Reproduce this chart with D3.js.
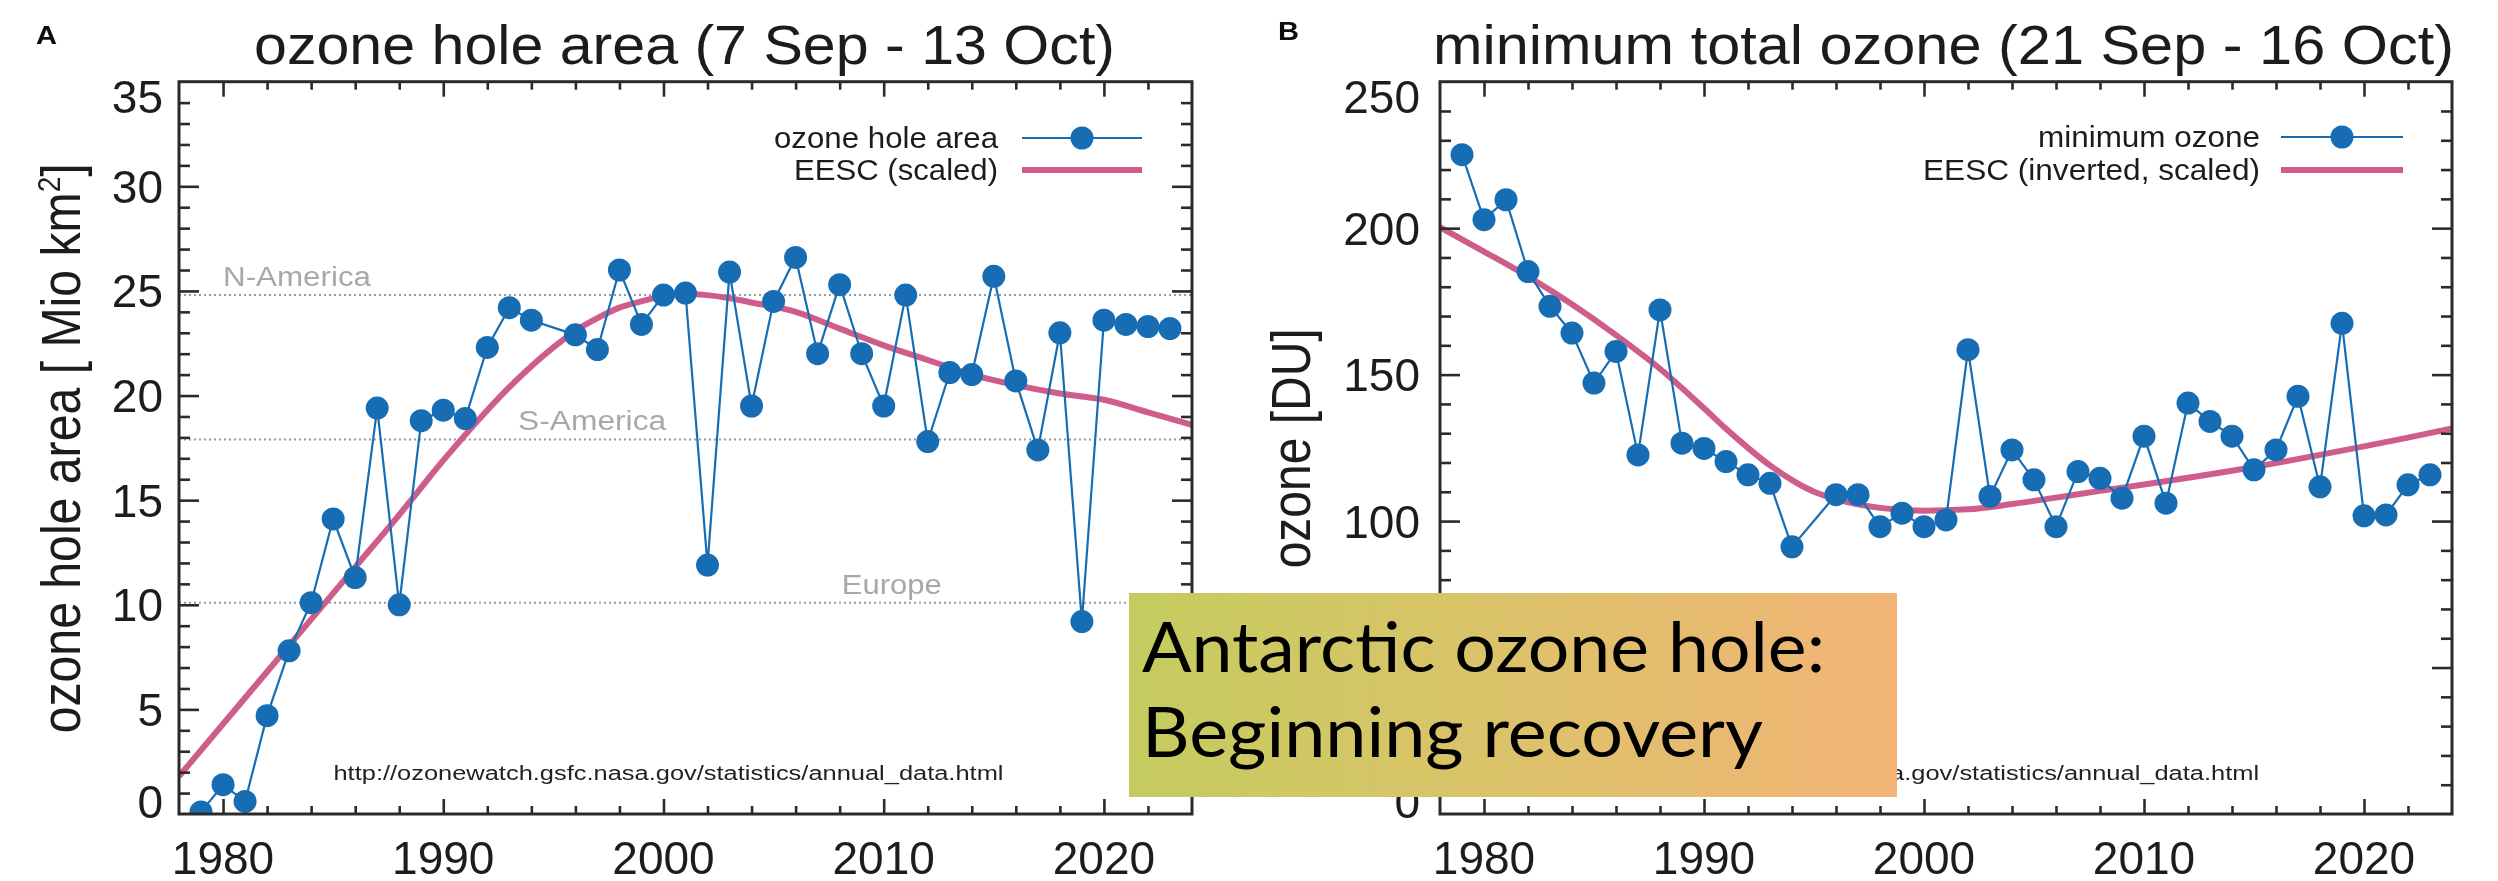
<!DOCTYPE html>
<html>
<head>
<meta charset="utf-8">
<script src="https://cdn.jsdelivr.net/npm/d3@7"></script>
<style>
  html, body { margin: 0; padding: 0; background: #fff; }
  svg { display: block; }
</style>
</head>
<body>
<svg id="chart" width="2498" height="881"></svg>
<script>
// ---- Panel A: Antarctic ozone hole area, million km², 7 Sep - 13 Oct mean (no 1995 data)
const areaYears = [1979,1980,1981,1982,1983,1984,1985,1986,1987,1988,1989,1990,1991,1992,1993,1994,
  1996,1997,1998,1999,2000,2001,2002,2003,2004,2005,2006,2007,2008,2009,2010,2011,2012,2013,2014,
  2015,2016,2017,2018,2019,2020,2021,2022,2023];
const areaValues = [0.1,1.4,0.6,4.7,7.8,10.1,14.1,11.3,19.4,10.0,18.8,19.3,18.9,22.3,24.2,23.6,
  22.9,22.2,26.0,23.4,24.8,24.9,11.9,25.9,19.5,24.5,26.6,22.0,25.3,22.0,19.5,24.8,17.8,21.1,21.0,
  25.7,20.7,17.4,23.0,9.2,23.6,23.4,23.3,23.2];

// EESC, scaled to hole area
const eescYears  = [1978,1980,1982,1984,1986,1988,1990,1992,1993,1994,1995,1996,1997,1998,1999,2000,
  2001,2002,2003,2004,2006,2008,2010,2012,2014,2016,2018,2020,2022,2024];
const eescValues = [1.8,4.3,6.8,9.3,11.8,14.3,16.9,19.3,20.4,21.4,22.3,23.1,23.7,24.2,24.5,24.75,
  24.85,24.8,24.65,24.45,24.0,23.2,22.4,21.7,21.0,20.5,20.1,19.8,19.2,18.6];

// Reference areas (dotted lines)
const regionNames  = ["N-America","S-America","Europe"];
const regionAreas  = [24.8,17.9,10.1];
const regionLabelX = [1980,1993.4,2008.1];

// ---- Panel B: minimum total ozone, DU, 21 Sep - 16 Oct
const minYears = areaYears;
const minValues = [225.1,202.9,209.7,185.2,173.3,164.2,147.1,157.9,122.6,172.1,126.6,124.8,120.3,115.8,112.9,91.2,
  109.0,109.0,98.1,102.7,98.1,100.4,158.5,108.4,124.3,114.1,98.1,116.9,114.6,107.8,129.0,106.1,140.3,134.0,129.0,
  117.5,124.3,142.6,111.7,167.5,101.8,102.1,112.4,115.8];

// EESC, inverted and scaled to ozone
const eescInvYears  = [1978,1980,1982,1984,1986,1988,1990,1991,1992,1993,1994,1995,1996,1998,2000,2002,
  2004,2006,2008,2010,2012,2014,2016,2018,2020,2022,2024];
const eescInvValues = [200.3,192.0,183.5,174.0,163.5,152.0,138.5,131.5,125.0,119.0,114.0,110.0,107.5,104.5,103.5,104.0,
  105.8,108.0,110.3,112.5,114.8,117.2,119.8,122.6,125.5,128.5,131.6];

const xTickYears = [1980,1990,2000,2010,2020];
const areaTicks  = [0,5,10,15,20,25,30,35];
const ozoneTicks = [0,50,100,150,200,250];

const urlText = "http://ozonewatch.gsfc.nasa.gov/statistics/annual_data.html";

// ---- layout
const TOP = 81.7, BOT = 814;
const BLUE = "#176db3", PINK = "#cf5d8b", FRAME = "#2b2b2b", INK = "#1c1c1c";
const FONT = "'Liberation Sans', Arial, Helvetica, sans-serif";

const svg = d3.select("#chart");
const defs = svg.append("defs");
defs.append("filter").attr("id", "soft")
  .attr("x", "-5%").attr("y", "-5%").attr("width", "110%").attr("height", "110%")
  .append("feGaussianBlur").attr("stdDeviation", 0.65);

const grad = defs.append("linearGradient").attr("id", "boxGrad")
  .attr("x1", "0%").attr("x2", "100%").attr("y1", "0%").attr("y2", "0%");
grad.append("stop").attr("offset", "0%").attr("stop-color", "#c5cc5f");
grad.append("stop").attr("offset", "50%").attr("stop-color", "#dcc26a");
grad.append("stop").attr("offset", "100%").attr("stop-color", "#f2b476");

const chart = svg.append("g").attr("filter", "url(#soft)");

function drawPanel(cfg) {
  const g = chart.append("g");
  const x = d3.scaleLinear().domain([1978, 2024]).range([cfg.x0, cfg.x1]);
  const y = d3.scaleLinear().domain(cfg.yDomain).range([BOT, TOP]);

  const clipId = "clip-" + cfg.id;
  defs.append("clipPath").attr("id", clipId)
    .append("rect").attr("x", cfg.x0).attr("y", TOP).attr("width", cfg.x1 - cfg.x0).attr("height", BOT - TOP);

  // reference dotted lines + labels
  (cfg.refs || []).forEach(r => {
    g.append("line")
      .attr("x1", cfg.x0).attr("x2", cfg.x1).attr("y1", y(r.v)).attr("y2", y(r.v))
      .attr("stroke", "#9a9a9a").attr("stroke-width", 2).attr("stroke-dasharray", "2,3");
    g.append("text")
      .attr("x", x(r.lx)).attr("y", y(r.v) - 9)
      .attr("font-family", FONT).attr("font-size", 27).attr("fill", "#a8a8a8")
      .attr("textLength", r.w).attr("lengthAdjust", "spacingAndGlyphs")
      .text(r.name);
  });

  // source url
  g.append("text")
    .attr("x", x(cfg.urlEndYear)).attr("y", 780).attr("text-anchor", "end")
    .attr("font-family", FONT).attr("font-size", 20).attr("fill", "#222")
    .attr("textLength", 670).attr("lengthAdjust", "spacingAndGlyphs")
    .text(urlText);

  const plot = g.append("g").attr("clip-path", `url(#${clipId})`);

  // EESC curve
  const eesc = cfg.eescX.map((d, i) => [d, cfg.eescY[i]]);
  plot.append("path")
    .datum(eesc)
    .attr("fill", "none").attr("stroke", PINK).attr("stroke-width", 6)
    .attr("stroke-linejoin", "round")
    .attr("d", d3.line().x(d => x(d[0])).y(d => y(d[1])).curve(d3.curveMonotoneX));

  // observations
  const obs = cfg.dataX.map((d, i) => [d, cfg.dataY[i]]);
  plot.append("path")
    .datum(obs)
    .attr("fill", "none").attr("stroke", BLUE).attr("stroke-width", 2.2)
    .attr("d", d3.line().x(d => x(d[0])).y(d => y(d[1])));
  plot.selectAll("circle.obs").data(obs).join("circle")
    .attr("class", "obs")
    .attr("cx", d => x(d[0])).attr("cy", d => y(d[1])).attr("r", 11.5)
    .attr("fill", BLUE);

  // ticks (inward on all four sides)
  const minorX = d3.range(1978, 2025, 2).filter(v => v % 10 !== 0 && v > 1978 && v < 2024);
  const minorY = d3.range(cfg.yDomain[0], cfg.yDomain[1] + 1e-9, cfg.minor)
    .filter(v => Math.abs(v % cfg.major) > 1e-9 && v > cfg.yDomain[0] && v < cfg.yDomain[1]);
  const majorY = cfg.yTicks.filter(v => v > cfg.yDomain[0] && v < cfg.yDomain[1]);

  const styleAxis = sel => {
    sel.select(".domain").remove();
    sel.selectAll(".tick line").attr("stroke", FRAME).attr("stroke-width", 2.6);
    sel.selectAll(".tick text").remove();
  };
  const ax = [
    [d3.axisBottom(x).tickValues(xTickYears).tickSize(-15), `translate(0,${BOT})`],
    [d3.axisBottom(x).tickValues(minorX).tickSize(-8), `translate(0,${BOT})`],
    [d3.axisTop(x).tickValues(xTickYears).tickSize(-15), `translate(0,${TOP})`],
    [d3.axisTop(x).tickValues(minorX).tickSize(-8), `translate(0,${TOP})`],
    [d3.axisLeft(y).tickValues(majorY).tickSize(-20), `translate(${cfg.x0},0)`],
    [d3.axisLeft(y).tickValues(minorY).tickSize(-11), `translate(${cfg.x0},0)`],
    [d3.axisRight(y).tickValues(majorY).tickSize(-20), `translate(${cfg.x1},0)`],
    [d3.axisRight(y).tickValues(minorY).tickSize(-11), `translate(${cfg.x1},0)`]
  ];
  ax.forEach(([a, t]) => g.append("g").attr("transform", t).call(a).call(styleAxis));

  // frame
  g.append("rect")
    .attr("x", cfg.x0).attr("y", TOP).attr("width", cfg.x1 - cfg.x0).attr("height", BOT - TOP)
    .attr("fill", "none").attr("stroke", FRAME).attr("stroke-width", 3);

  // tick labels
  g.selectAll("text.xl").data(xTickYears).join("text")
    .attr("class", "xl")
    .attr("x", d => x(d)).attr("y", 874).attr("text-anchor", "middle")
    .attr("font-family", FONT).attr("font-size", 46).attr("fill", INK)
    .text(d => d);
  g.selectAll("text.yl").data(cfg.yTicks).join("text")
    .attr("class", "yl")
    .attr("x", cfg.x0 - (cfg.id === "a" ? 16 : 20))
    .attr("y", d => {
      let yy = y(d);
      if (d === cfg.yDomain[1]) yy += 15;      // end labels kept inside the axis span
      if (d === cfg.yDomain[0]) yy -= 13;
      return yy;
    })
    .attr("dy", "0.36em").attr("text-anchor", "end")
    .attr("font-family", FONT).attr("font-size", 46).attr("fill", INK)
    .text(d => d);

  // axis title (rotated)
  g.append("text")
    .attr("transform", `translate(${cfg.yTitleX},${(TOP + BOT) / 2 + 0.5}) rotate(-90)`)
    .attr("text-anchor", "middle")
    .attr("font-family", FONT).attr("font-size", 55).attr("fill", INK)
    .attr("textLength", cfg.yTitleLen).attr("lengthAdjust", "spacingAndGlyphs")
    .call(t => cfg.yTitle(t));

  // title
  g.append("text")
    .attr("x", cfg.titleX).attr("y", 64)
    .attr("font-family", FONT).attr("font-size", 56).attr("fill", INK)
    .attr("textLength", cfg.titleLen).attr("lengthAdjust", "spacingAndGlyphs")
    .text(cfg.title);

  // panel letter
  g.append("text")
    .attr("x", cfg.letterX).attr("y", cfg.letterY)
    .attr("font-family", FONT).attr("font-size", 25).attr("font-weight", "bold").attr("fill", "#111")
    .attr("textLength", 21).attr("lengthAdjust", "spacingAndGlyphs")
    .text(cfg.letter);

  // legend
  const L = cfg.legend;
  [[L.label1, L.y1, L.w1], [L.label2, L.y2, L.w2]].forEach(([lab, ly, lw]) => {
    g.append("text")
      .attr("x", L.textRight).attr("y", ly + 10).attr("text-anchor", "end")
      .attr("font-family", FONT).attr("font-size", 29).attr("fill", INK)
      .attr("textLength", lw).attr("lengthAdjust", "spacingAndGlyphs")
      .text(lab);
  });
  g.append("line").attr("x1", L.lx0).attr("x2", L.lx1).attr("y1", L.y1).attr("y2", L.y1)
    .attr("stroke", BLUE).attr("stroke-width", 2.2);
  g.append("circle").attr("cx", (L.lx0 + L.lx1) / 2).attr("cy", L.y1).attr("r", 11.5).attr("fill", BLUE);
  g.append("line").attr("x1", L.lx0).attr("x2", L.lx1).attr("y1", L.y2).attr("y2", L.y2)
    .attr("stroke", PINK).attr("stroke-width", 6);
}

drawPanel({
  id: "a", x0: 179, x1: 1192, yDomain: [0, 35], major: 5, minor: 1, yTicks: areaTicks,
  dataX: areaYears, dataY: areaValues, eescX: eescYears, eescY: eescValues,
  refs: regionNames.map((n, i) => ({ name: n, v: regionAreas[i], lx: regionLabelX[i], w: [148, 148, 100][i] })),
  urlEndYear: 2015.44,
  yTitleX: 80, yTitleLen: 570,
  yTitle: t => {
    t.append("tspan").text("ozone hole area [ Mio km");
    t.append("tspan").attr("font-size", 32).attr("dy", -20).text("2");
    t.append("tspan").attr("dy", 20).text("]");
  },
  title: "ozone hole area (7 Sep - 13 Oct)", titleX: 254, titleLen: 861,
  letter: "A", letterX: 36, letterY: 44,
  legend: { label1: "ozone hole area", label2: "EESC (scaled)", w1: 224, w2: 204,
            textRight: 998, y1: 138, y2: 170, lx0: 1022, lx1: 1142 }
});

drawPanel({
  id: "b", x0: 1440, x1: 2452, yDomain: [0, 250], major: 50, minor: 10, yTicks: ozoneTicks,
  dataX: minYears, dataY: minValues, eescX: eescInvYears, eescY: eescInvValues,
  refs: [],
  urlEndYear: 2015.23,
  yTitleX: 1310, yTitleLen: 240,
  yTitle: t => t.text("ozone [DU]"),
  title: "minimum total ozone (21 Sep - 16 Oct)", titleX: 1433, titleLen: 1021,
  letter: "B", letterX: 1278, letterY: 40,
  legend: { label1: "minimum ozone", label2: "EESC (inverted, scaled)", w1: 222, w2: 337,
            textRight: 2260, y1: 137, y2: 170, lx0: 2281, lx1: 2403 }
});

// caption box laid over the two panels
const box = svg.append("g");
box.append("rect").attr("x", 1129).attr("y", 593).attr("width", 768).attr("height", 204)
  .attr("fill", "url(#boxGrad)");
const CAP = "Lato, 'Fira Sans', 'Noto Sans', sans-serif";
box.append("text").attr("x", 1142).attr("y", 672)
  .attr("font-family", CAP).attr("font-size", 70).attr("fill", "#000")
  .attr("textLength", 683).attr("lengthAdjust", "spacingAndGlyphs")
  .text("Antarctic ozone hole:");
box.append("text").attr("x", 1142).attr("y", 757)
  .attr("font-family", CAP).attr("font-size", 70).attr("fill", "#000")
  .attr("textLength", 621).attr("lengthAdjust", "spacingAndGlyphs")
  .text("Beginning recovery");
</script>
</body>
</html>
